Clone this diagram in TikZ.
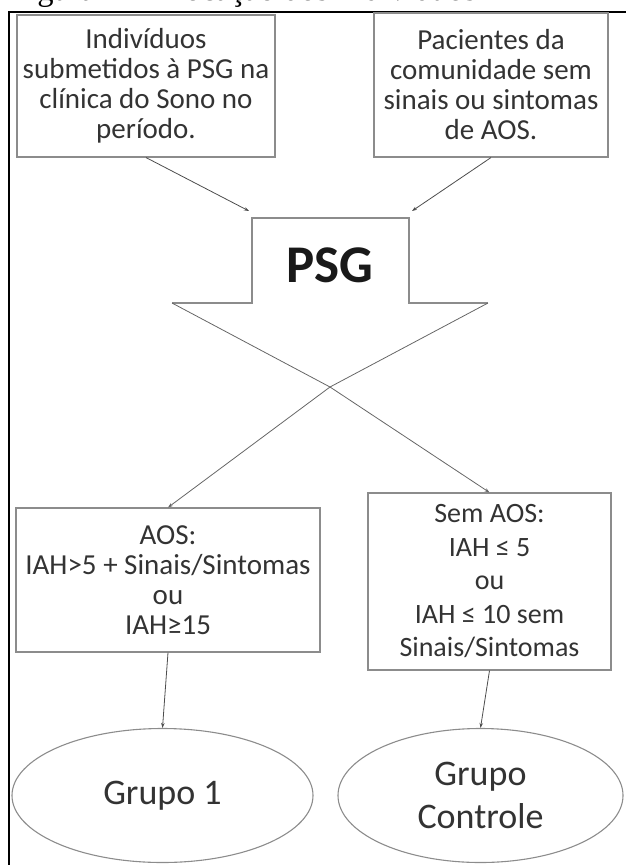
\documentclass[tikz,border=0pt]{standalone}
\usepackage{fontspec}
\setmainfont{Carlito}
\newfontfamily\titlefont{Liberation Serif}
\usetikzlibrary{arrows.meta, shapes.geometric}

\tikzset{
  caixa/.style={draw=black!45, line width=1.1pt, text=black!80, align=center,
    inner sep=0pt, font=\fontsize{29}{30}\selectfont},
  grupo/.style={ellipse, draw=black!45, line width=1.1pt, text=black!80, align=center,
    inner sep=0pt, minimum height=134pt, font=\fontsize{36}{43}\selectfont},
  seta/.style={-{Stealth[length=5pt,width=3.5pt]}, draw=black!70, line width=0.8pt},
}

\begin{document}
\begin{tikzpicture}[x=1pt, y=-1pt]
\useasboundingbox (0,0) rectangle (626,865);
% title line, cut off by the top of the page
\begin{scope}
  \clip (0,0) rectangle (626,865);
  \node[anchor=base west, inner sep=0pt, font=\titlefont\fontsize{32.6}{34}\selectfont]
    (titulo) at (10,0) {Figura 1 – Alocação dos Indivíduos};
\end{scope}
\draw[line width=1.5pt] (9,865) -- (9,12) -- (626,12);

% the two sources
\node[caixa, minimum width=258pt, minimum height=142pt] (ind) at (146,86)
  {Indivíduos\\submetidos à PSG na\\clínica do Sono no\\período.};
\node[caixa, minimum width=234pt, minimum height=144pt] (pac) at (491,85)
  {Pacientes da\\comunidade sem\\sinais ou sintomas\\de AOS.};

% block arrow PSG, its head made of the two crossing lines
\coordinate (entA) at (249,211);
\coordinate (entB) at (412,211);
\coordinate (ombE) at (172,303);
\coordinate (ombD) at (488,303);
\coordinate (cruz) at (330,387);
\draw[draw=black!45, line width=1.1pt]
  (ombE) -- (252,303) -- (252,218) -- (409,218) -- (409,303) -- (ombD);
\node[font=\bfseries\fontsize{53}{53}\selectfont, text=black!90] (psg) at (330,265) {PSG};

\draw[seta] (ind.south) -- (entA);
\draw[seta] (pac.south) -- (entB);

% classification
\node[caixa, minimum width=304pt, minimum height=144pt] (aos) at (168,580)
  {AOS:\\IAH>5 + Sinais/Sintomas\\ou\\IAH≥15};
\node[caixa, minimum width=243pt, minimum height=177pt,
  font=\fontsize{28}{33.5}\selectfont] (semaos) at (489.5,581.5)
  {Sem AOS:\\IAH ≤ 5\\ou\\IAH ≤ 10 sem\\Sinais/Sintomas};

\draw[seta, draw=black!60] (ombE) -- (cruz) -- (semaos.north);
\draw[seta, draw=black!60] (ombD) -- (cruz) -- (aos.north);

% groups
\node[grupo, minimum width=301pt] (g1) at (162.5,795.5) {Grupo 1};
\node[grupo, minimum width=285pt] (gc) at (480.5,795.5) {Grupo\\Controle};

\draw[seta] (aos.south) -- (g1.north);
\draw[seta] (semaos.south) -- (gc.north);
\end{tikzpicture}
\end{document}
